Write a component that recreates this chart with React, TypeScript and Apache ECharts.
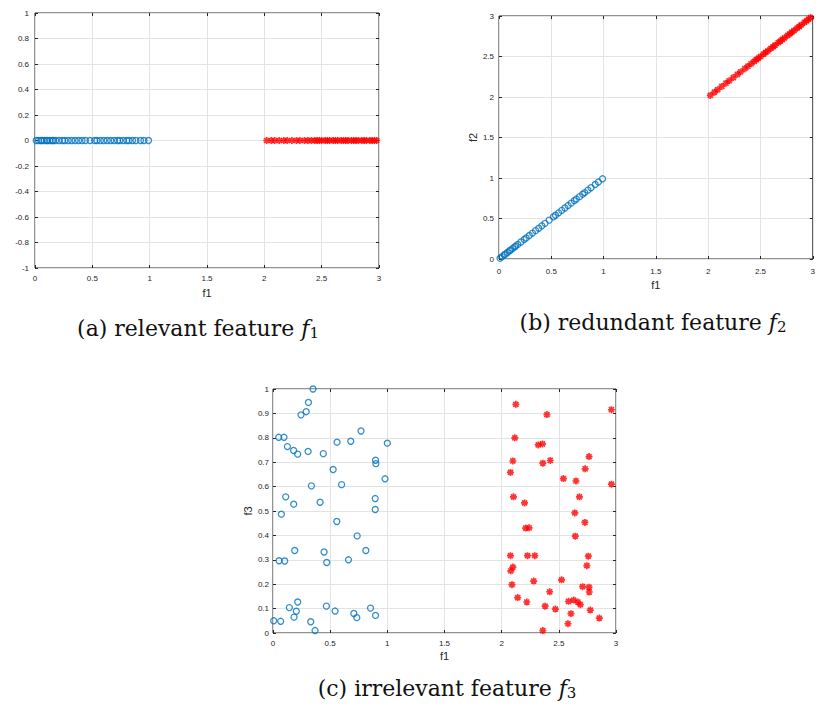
import React, { useEffect, useRef } from "react";
import * as echarts from "echarts";

// (a) and (b): feature f1 values of the two classes
const f1Blue = [0.01, 0.03, 0.05, 0.06, 0.08, 0.1, 0.11, 0.13, 0.15, 0.16, 0.18, 0.21, 0.24, 0.26, 0.29, 0.32, 0.35, 0.38, 0.41, 0.44, 0.48, 0.52, 0.54, 0.57, 0.6, 0.63, 0.66, 0.69, 0.72, 0.74, 0.77, 0.8, 0.82, 0.85, 0.88, 0.92, 0.95, 0.99];
const f1Red = [2.02, 2.06, 2.09, 2.13, 2.17, 2.2, 2.24, 2.28, 2.31, 2.35, 2.38, 2.41, 2.44, 2.46, 2.48, 2.5, 2.53, 2.55, 2.57, 2.6, 2.62, 2.64, 2.67, 2.69, 2.71, 2.73, 2.76, 2.78, 2.8, 2.82, 2.85, 2.87, 2.89, 2.92, 2.94, 2.96, 2.98];
// (b): redundant feature f2 (same values as f1)
const f2Blue = [0.01, 0.03, 0.05, 0.06, 0.08, 0.1, 0.11, 0.13, 0.15, 0.16, 0.18, 0.21, 0.24, 0.26, 0.29, 0.32, 0.35, 0.38, 0.41, 0.44, 0.48, 0.52, 0.54, 0.57, 0.6, 0.63, 0.66, 0.69, 0.72, 0.74, 0.77, 0.8, 0.82, 0.85, 0.88, 0.92, 0.95, 0.99];
const f2Red = [2.02, 2.06, 2.09, 2.13, 2.17, 2.2, 2.24, 2.28, 2.31, 2.35, 2.38, 2.41, 2.44, 2.46, 2.48, 2.5, 2.53, 2.55, 2.57, 2.6, 2.62, 2.64, 2.67, 2.69, 2.71, 2.73, 2.76, 2.78, 2.8, 2.82, 2.85, 2.87, 2.89, 2.92, 2.94, 2.96, 2.98];
// (a): constant second coordinate
const zeroLevel = 0;

// (c): irrelevant feature f3 vs f1
const cBlueF1 = [0.35, 0.31, 0.29, 0.245, 0.05, 0.096, 0.77, 0.56, 0.68, 1.0, 0.126, 0.18, 0.216, 0.307, 0.44, 0.897, 0.9, 0.526, 0.98, 0.6, 0.336, 0.111, 0.181, 0.412, 0.894, 0.894, 0.073, 0.558, 0.736, 0.19, 0.447, 0.812, 0.053, 0.102, 0.47, 0.66, 0.216, 0.143, 0.204, 0.184, 0.467, 0.543, 0.707, 0.733, 0.853, 0.897, 0.006, 0.067, 0.33, 0.368];
const cBlueF3 = [1.0, 0.945, 0.907, 0.894, 0.802, 0.802, 0.828, 0.782, 0.786, 0.778, 0.764, 0.748, 0.733, 0.744, 0.735, 0.708, 0.694, 0.67, 0.632, 0.608, 0.603, 0.558, 0.528, 0.536, 0.551, 0.506, 0.487, 0.457, 0.398, 0.338, 0.332, 0.338, 0.296, 0.295, 0.289, 0.3, 0.127, 0.104, 0.089, 0.065, 0.11, 0.09, 0.08, 0.063, 0.102, 0.072, 0.05, 0.048, 0.046, 0.01];
const cRedF1 = [2.124, 2.396, 2.96, 2.115, 2.32, 2.357, 2.098, 2.36, 2.425, 2.764, 2.077, 2.73, 2.54, 2.65, 2.96, 2.103, 2.2, 2.68, 2.64, 2.728, 2.21, 2.24, 2.644, 2.077, 2.226, 2.29, 2.758, 2.745, 2.098, 2.08, 2.28, 2.524, 2.09, 2.708, 2.764, 2.766, 2.42, 2.14, 2.22, 2.38, 2.585, 2.63, 2.667, 2.688, 2.47, 2.775, 2.606, 2.854, 2.58, 2.36];
const cRedF3 = [0.937, 0.895, 0.915, 0.8, 0.771, 0.775, 0.705, 0.696, 0.707, 0.723, 0.658, 0.673, 0.633, 0.623, 0.61, 0.558, 0.533, 0.558, 0.492, 0.453, 0.43, 0.431, 0.397, 0.317, 0.317, 0.317, 0.315, 0.276, 0.27, 0.255, 0.213, 0.218, 0.198, 0.19, 0.188, 0.168, 0.169, 0.145, 0.127, 0.11, 0.13, 0.135, 0.127, 0.116, 0.098, 0.094, 0.079, 0.061, 0.038, 0.01];

const xTicksF1 = { min: 0, max: 3, interval: 0.5 };
const yTicksA = { min: -1, max: 1, interval: 0.2 };
const yTicksB = { min: 0, max: 3, interval: 0.5 };
const yTicksC = { min: 0, max: 1, interval: 0.1 };

const BLUE = "#0072BD";
const RED = "#FF0000";
const AXIS = "#262626";
const GRIDLINE = "#e3e3e3";
const STAR = "path://M0,-5L0,5M-5,0L5,0M-3.6,-3.6L3.6,3.6M-3.6,3.6L3.6,-3.6";

function mainX(gridIndex: number, ticks: any, name: string, gap: number, labelMargin: number) {
  return {
    type: "value", gridIndex, ...ticks, position: "bottom",
    name, nameLocation: "middle", nameGap: gap,
    nameTextStyle: { fontFamily: "Liberation Sans", fontSize: 11, color: AXIS },
    axisLine: { show: false, onZero: false },
    axisTick: { show: true, inside: true, length: 3, lineStyle: { color: AXIS } },
    axisLabel: { fontFamily: "Liberation Sans", fontSize: 8, color: AXIS, margin: labelMargin },
    splitLine: { show: true, lineStyle: { color: GRIDLINE, width: 1 } },
  };
}
function mainY(gridIndex: number, ticks: any, name: string, gap: number, labelMargin: number) {
  return {
    type: "value", gridIndex, ...ticks, position: "left",
    name, nameLocation: "middle", nameGap: gap,
    nameTextStyle: { fontFamily: "Liberation Sans", fontSize: 11, color: AXIS },
    axisLine: { show: false, onZero: false },
    axisTick: { show: true, inside: true, length: 3, lineStyle: { color: AXIS } },
    axisLabel: { fontFamily: "Liberation Sans", fontSize: 8, color: AXIS, margin: labelMargin },
    splitLine: { show: true, lineStyle: { color: GRIDLINE, width: 1 } },
  };
}
function mirror(kind: "x" | "y", gridIndex: number, ticks: any) {
  return {
    type: "value", gridIndex, ...ticks, position: kind === "x" ? "top" : "right",
    axisLine: { show: false, onZero: false },
    axisTick: { show: true, inside: true, length: 3, lineStyle: { color: AXIS } },
    axisLabel: { show: false },
    splitLine: { show: false },
  };
}

function circles(xi: number, yi: number, pts: number[][]) {
  return {
    type: "scatter", xAxisIndex: xi, yAxisIndex: yi, data: pts,
    symbol: "circle", symbolSize: 6,
    itemStyle: { color: "rgba(0,0,0,0)", borderColor: BLUE, borderWidth: 1.3 },
    silent: true,
  };
}
function stars(xi: number, yi: number, pts: number[][]) {
  return {
    type: "scatter", xAxisIndex: xi, yAxisIndex: yi, data: pts,
    symbol: STAR, symbolSize: 7,
    itemStyle: { color: "rgba(0,0,0,0)", borderColor: RED, borderWidth: 1.7 },
    silent: true,
  };
}

function caption(text: string, sub: string, cx: number, cy: number) {
  return {
    type: "text", x: cx, y: cy,
    style: {
      text: `{r|${text} }{i|f}{s|${sub}}`,
      align: "center", verticalAlign: "middle",
      rich: {
        r: { fontFamily: "DejaVu Serif", fontSize: 22, fill: "#111" },
        i: { fontFamily: "DejaVu Serif", fontStyle: "italic", fontSize: 22, fill: "#111" },
        s: { fontFamily: "DejaVu Serif", fontSize: 15, fill: "#111", padding: [10, 0, 0, 0] },
      },
    },
  };
}

export default function App() {
  const ref = useRef<HTMLDivElement>(null);
  useEffect(() => {
    if (!ref.current) return;
    const chart = echarts.init(ref.current, null, { renderer: "svg" });
    const gridStyle = { show: true, borderColor: AXIS, borderWidth: 1, backgroundColor: "#fff", containLabel: false };
    chart.setOption({
      animation: false,
      backgroundColor: "#fff",
      grid: [
        { left: 35, top: 13, width: 344, height: 255, ...gridStyle },
        { left: 499, top: 16, width: 322, height: 243, ...gridStyle },
        { left: 273, top: 389, width: 343, height: 244, ...gridStyle },
      ],
      xAxis: [
        mainX(0, xTicksF1, "f1", 19, 6),
        mainX(1, xTicksF1, "f1", 20, 8),
        mainX(2, xTicksF1, "f1", 17, 6),
        mirror("x", 0, xTicksF1),
        mirror("x", 1, xTicksF1),
        mirror("x", 2, xTicksF1),
      ],
      yAxis: [
        mainY(0, yTicksA, "", 20, 6),
        mainY(1, yTicksB, "f2", 20, 5),
        mainY(2, yTicksC, "f3", 20, 4),
        mirror("y", 0, yTicksA),
        mirror("y", 1, yTicksB),
        mirror("y", 2, yTicksC),
      ],
      series: [
        circles(0, 0, f1Blue.map((v) => [v, zeroLevel])),
        stars(0, 0, f1Red.map((v) => [v, zeroLevel])),
        circles(1, 1, f1Blue.map((v, i) => [v, f2Blue[i]])),
        stars(1, 1, f1Red.map((v, i) => [v, f2Red[i]])),
        circles(2, 2, cBlueF1.map((v, i) => [v, cBlueF3[i]])),
        stars(2, 2, cRedF1.map((v, i) => [v, cRedF3[i]])),
      ],
      graphic: [
        caption("(a) relevant feature", "1", 198, 328),
        caption("(b) redundant feature", "2", 653, 322),
        caption("(c) irrelevant feature", "3", 447, 688),
      ],
    });
    return () => chart.dispose();
  }, []);
  return (
    <div
      ref={ref}
      style={{ position: "fixed", left: 0, top: 0, width: 818, height: 709, background: "#fff" }}
    />
  );
}
